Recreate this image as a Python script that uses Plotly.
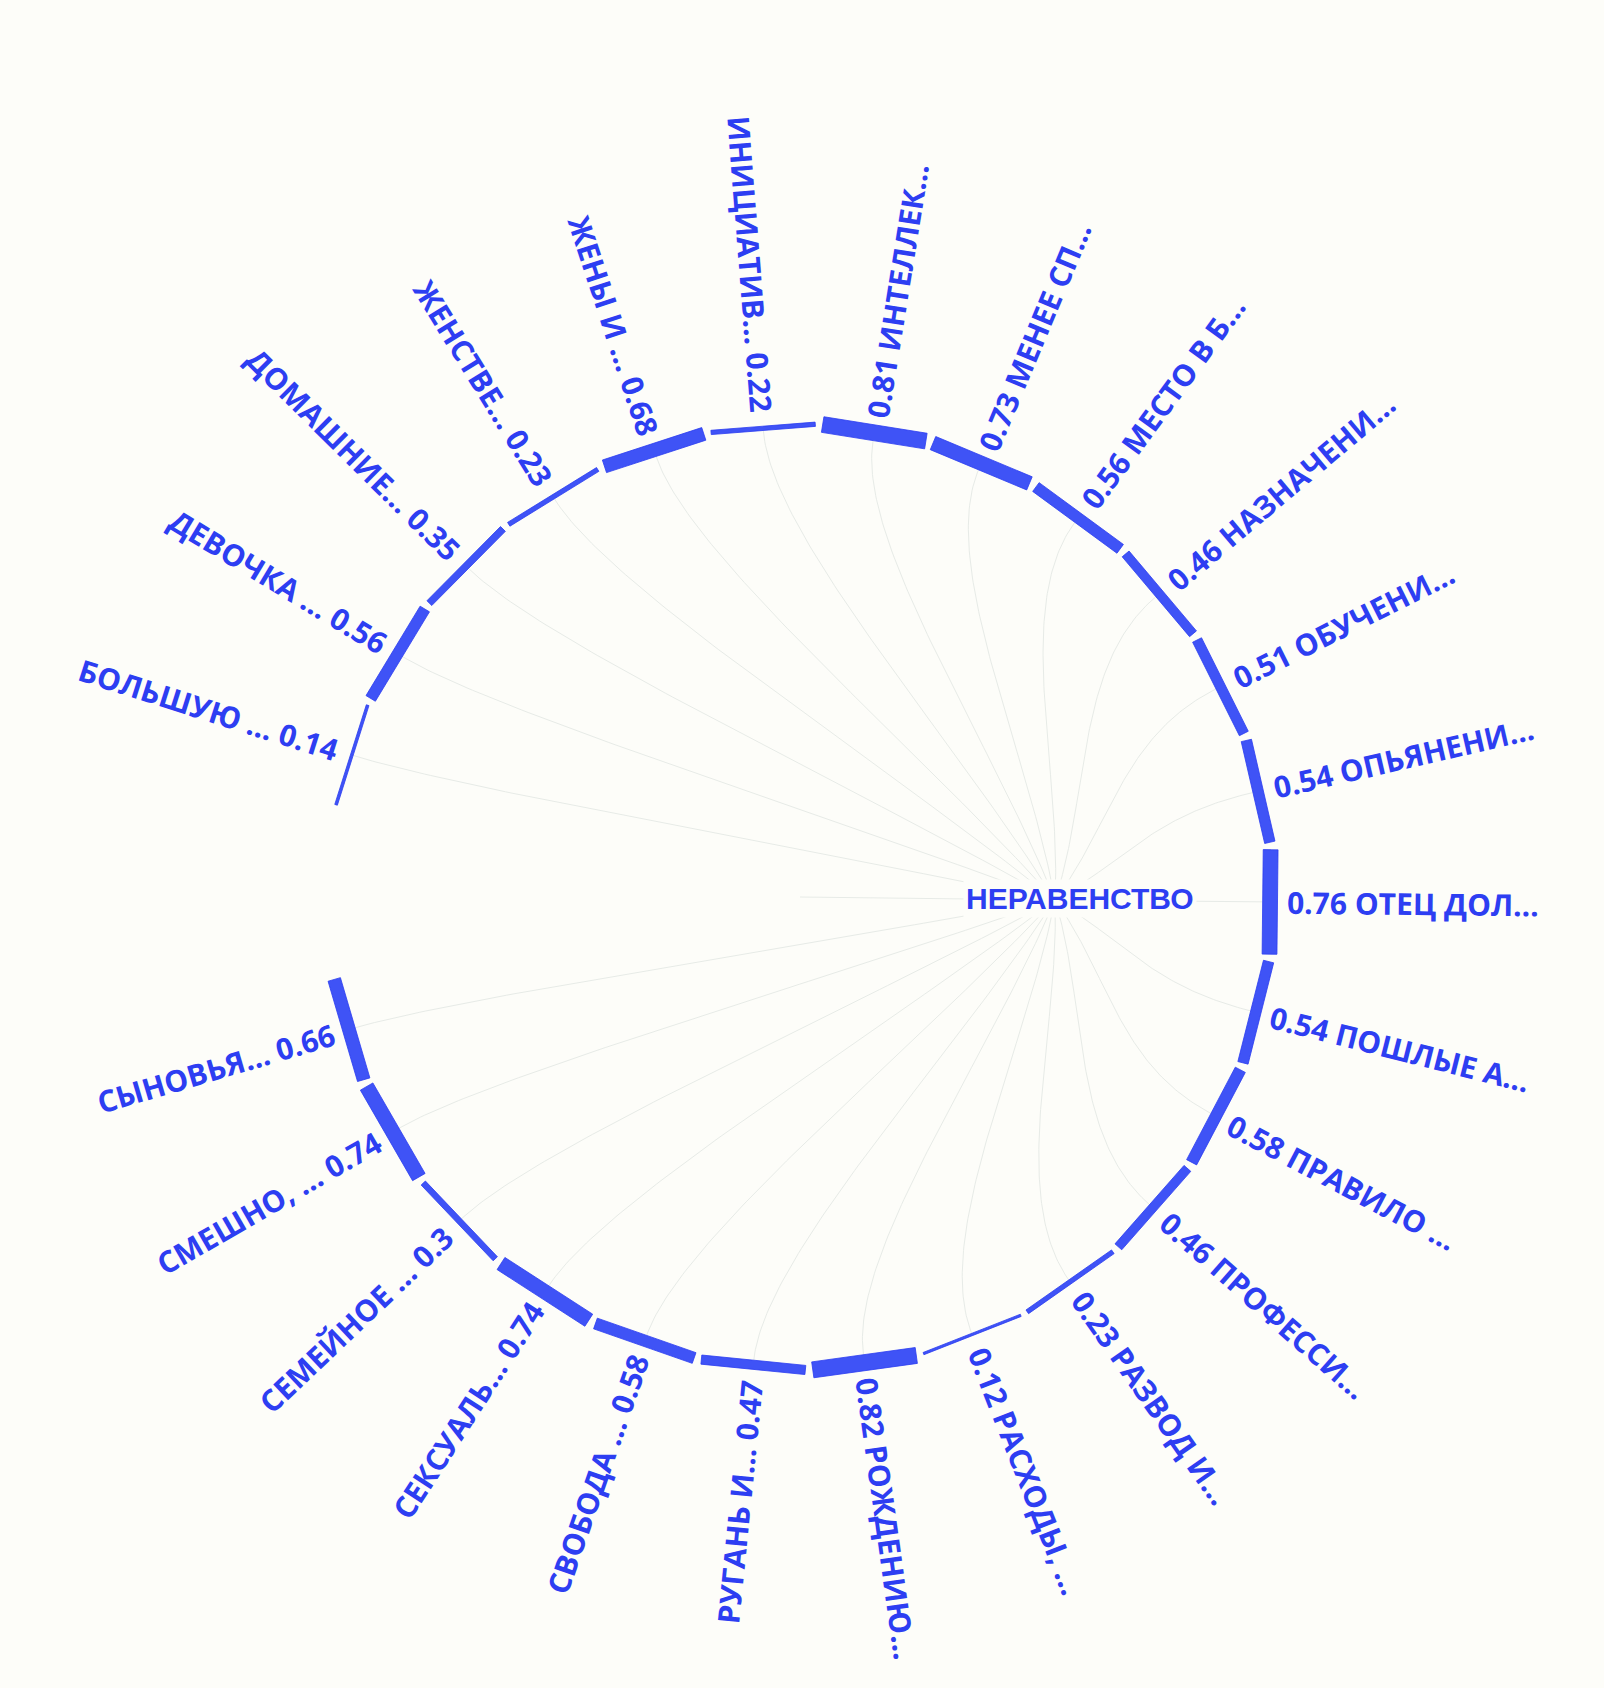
import numpy as np
import plotly.graph_objects as go

# ---------------- data ----------------
names = ["БОЛЬШУЮ ", "ДЕВОЧКА ", "ДОМАШНИЕ", "ЖЕНСТВЕ", "ЖЕНЫ И ", "ИНИЦИАТИВ",
         "ИНТЕЛЛЕК", "МЕНЕЕ СП", "МЕСТО В Б", "НАЗНАЧЕНИ", "ОБУЧЕНИ", "ОПЬЯНЕНИ",
         "ОТЕЦ ДОЛ", "ПОШЛЫЕ А", "ПРАВИЛО ", "ПРОФЕССИ", "РАЗВОД И", "РАСХОДЫ, ",
         "РОЖДЕНИЮ", "РУГАНЬ И", "СВОБОДА ", "СЕКСУАЛЬ", "СЕМЕЙНОЕ ", "СМЕШНО, ",
         "СЫНОВЬЯ"]
values = [0.14, 0.56, 0.35, 0.23, 0.68, 0.22,
          0.81, 0.73, 0.56, 0.46, 0.51, 0.54,
          0.76, 0.54, 0.58, 0.46, 0.23, 0.12,
          0.82, 0.47, 0.58, 0.74, 0.3, 0.74,
          0.66]
hub_label = "НЕРАВЕНСТВО"

# ---------------- style / geometry ----------------
W, H = 1604, 1688
BG = "#fdfdf9"
SEG_FILL = "#3f53f6"
SEG_LINE = "#2b3cf0"
TXT = "#2d3ef2"
LINK = "#e7ebe7"

CX, CY = 800.0, 897.0
R = 473.0
HUB = (1055.0, 900.0)
n = len(names)
step = 360.0 / (n + 1.5)
offset = 0.6
half = step / 2 - 0.45
thick_k = 19.5
R_LABEL = 482.0

mid_idx = (n - 1) / 2
angles = [(i - mid_idx) * step + offset for i in range(n)]

fig = go.Figure()

# ---------------- links ----------------
lx, ly = [], []
t = np.linspace(0, 1, 90)
hx, hy = HUB
rs = np.hypot(hx - CX, hy - CY)
for a_deg, v in zip(angles, values):
    a = np.radians(a_deg)
    rt = R * np.cos(np.radians(half)) - thick_k * v / 2
    px, py = CX + rt * np.cos(a), CY + rt * np.sin(a)
    rm = (rs + rt) / 2
    b1x, b1y = hx + 0.35 * (px - hx), hy + 0.35 * (py - hy)
    b2x, b2y = CX + rm * np.cos(a), CY + rm * np.sin(a)
    bx = (1 - t) ** 3 * hx + 3 * (1 - t) ** 2 * t * b1x + 3 * (1 - t) * t ** 2 * b2x + t ** 3 * px
    by = (1 - t) ** 3 * hy + 3 * (1 - t) ** 2 * t * b1y + 3 * (1 - t) * t ** 2 * b2y + t ** 3 * py
    lx += list(bx) + [None]
    ly += list(by) + [None]
lx += [CX, hx, None]
ly += [CY, hy, None]
fig.add_trace(go.Scatter(x=lx, y=ly, mode="lines", line=dict(color=LINK, width=1),
                         hoverinfo="skip", showlegend=False))

# ---------------- segments ----------------
for a_deg, v in zip(angles, values):
    a1 = np.radians(a_deg - half)
    a2 = np.radians(a_deg + half)
    am = np.radians(a_deg)
    nx, ny = np.cos(am), np.sin(am)
    th = thick_k * v / 2
    p1 = (CX + R * np.cos(a1), CY + R * np.sin(a1))
    p2 = (CX + R * np.cos(a2), CY + R * np.sin(a2))
    xs = [p1[0] - nx * th, p2[0] - nx * th, p2[0] + nx * th, p1[0] + nx * th, p1[0] - nx * th]
    ys = [p1[1] - ny * th, p2[1] - ny * th, p2[1] + ny * th, p1[1] + ny * th, p1[1] - ny * th]
    fig.add_trace(go.Scatter(x=xs, y=ys, mode="lines", fill="toself", fillcolor=SEG_FILL,
                             line=dict(color=SEG_LINE, width=0.8), hoverinfo="skip",
                             showlegend=False))

# ---------------- labels ----------------
hid = "<span style='color:rgba(0,0,0,0)'>{}</span>"
lab_font = dict(family="Open Sans", size=30, color=TXT, weight="bold")
annotations = []
for a_deg, v, nm in zip(angles, values, names):
    a = np.radians(a_deg)
    if abs(a_deg) < 3:
        # nearly horizontal label: anchor its start directly
        x0, y0 = CX + (R_LABEL + 3) * np.cos(a), CY + R_LABEL * np.sin(a)
        annotations.append(dict(x=x0, y=y0 + 1.5, xref="x", yref="y", text=f"{v} {nm}…",
                                showarrow=False, textangle=a_deg, xanchor="left",
                                yanchor="middle", font=lab_font))
        continue
    x0, y0 = CX + R_LABEL * np.cos(a), CY + R_LABEL * np.sin(a)
    if -90 < a_deg <= 90:
        vis = f"{v} {nm}…"
        text = hid.format(vis) + " " + vis
        ang = a_deg
    else:
        vis = f"{nm}… {v}"
        text = vis + " " + hid.format(vis)
        ang = a_deg - 180 if a_deg > 0 else a_deg + 180
    annotations.append(dict(x=x0, y=y0, xref="x", yref="y", text=text, showarrow=False,
                            textangle=ang, xanchor="center", yanchor="middle",
                            font=lab_font))

annotations.append(dict(x=1080, y=898, xref="x", yref="y", text=hub_label, showarrow=False,
                        xanchor="center", yanchor="middle", bgcolor=BG, borderpad=2,
                        font=dict(family="Liberation Sans, Arial", size=30, color=TXT,
                                  weight="bold")))

fig.update_layout(
    width=W, height=H, margin=dict(l=0, r=0, t=0, b=0),
    paper_bgcolor=BG, plot_bgcolor=BG,
    xaxis=dict(range=[0, W], visible=False, fixedrange=True),
    yaxis=dict(range=[H, 0], visible=False, fixedrange=True),
    annotations=annotations, showlegend=False,
)

fig.write_html("out.html", config={"displayModeBar": False},
               post_script="document.body.style.margin='0';")
